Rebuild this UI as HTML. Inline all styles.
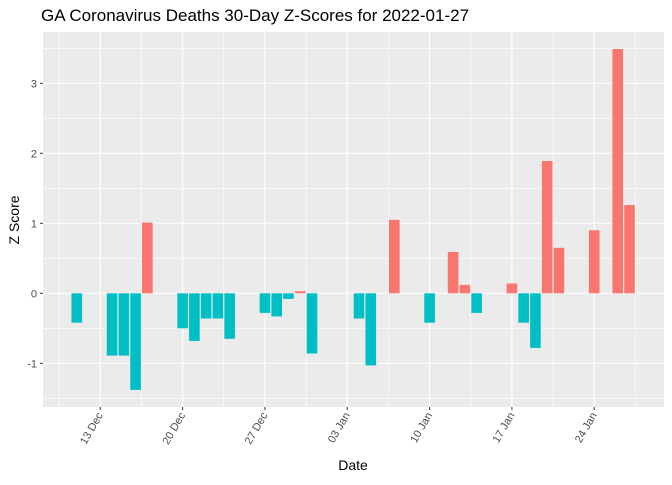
<!DOCTYPE html>
<html><head><meta charset="utf-8"><style>
body{margin:0;background:#fff;font-family:"Liberation Sans",Arial,sans-serif}
</style></head><body>
<svg width="672" height="480" xmlns="http://www.w3.org/2000/svg">
<text x="41" y="21" font-size="17" fill="#000">GA Coronavirus Deaths 30-Day Z-Scores for 2022-01-27</text>
<rect x="43" y="32" width="621" height="375" fill="#ebebeb"/>
<g id="grid"></g><g id="bars"></g><g id="axes"></g>
<text x="353" y="470" font-size="14" text-anchor="middle">Date</text>
<text transform="translate(19,220) rotate(-90)" font-size="14" text-anchor="middle">Z Score</text>
</svg>
<script>
const dates=["2021-12-11","2021-12-14","2021-12-15","2021-12-16","2021-12-17","2021-12-20","2021-12-21","2021-12-22","2021-12-23","2021-12-24","2021-12-27","2021-12-28","2021-12-29","2021-12-30","2021-12-31","2022-01-04","2022-01-05","2022-01-07","2022-01-10","2022-01-12","2022-01-13","2022-01-14","2022-01-17","2022-01-18","2022-01-19","2022-01-20","2022-01-21","2022-01-24","2022-01-26","2022-01-27"];
const zscores=[-0.42,-0.89,-0.89,-1.38,1.01,-0.50,-0.68,-0.36,-0.36,-0.65,-0.28,-0.33,-0.08,0.03,-0.86,-0.36,-1.03,1.05,-0.42,0.59,0.12,-0.28,0.14,-0.42,-0.78,1.89,0.65,0.90,3.49,1.26];
const yTicks=[-1,0,1,2,3];
const xTickDates=["2021-12-13","2021-12-20","2021-12-27","2022-01-03","2022-01-10","2022-01-17","2022-01-24"];
const xTickLabels=["13 Dec","20 Dec","27 Dec","03 Jan","10 Jan","17 Jan","24 Jan"];
const NS="http://www.w3.org/2000/svg";
const base=Date.UTC(2021,11,13);
function day(s){const p=s.split("-");return (Date.UTC(+p[0],+p[1]-1,+p[2])-base)/86400000;}
const X=d=>100.3+d*11.76;
const Y=v=>293.3-v*70;
function mk(t,a,parent){const e=document.createElementNS(NS,t);for(const k in a)e.setAttribute(k,a[k]);document.getElementById(parent).appendChild(e);return e;}
const grid="grid";
// minor horizontal
for(let v=-1.5;v<=3.5;v+=1){const l=mk("line",{x1:43,x2:664,y1:Y(v),y2:Y(v),stroke:"#fff","stroke-width":0.6},grid);

}
yTicks.forEach(v=>{const l=mk("line",{x1:43,x2:664,y1:Y(v),y2:Y(v),stroke:"#fff","stroke-width":1.2},grid);


const t=mk("text",{x:37,y:Y(v)+4,"font-size":11,fill:"#4d4d4d","text-anchor":"end"},"axes");t.textContent=v;


const tk=mk("line",{x1:40,x2:43,y1:Y(v),y2:Y(v),stroke:"#333"},"axes");

});
const tickDays=xTickDates.map(day);
for(let i=-1;i<tickDays.length;i++){const d=(i<0?tickDays[0]-7:tickDays[i])+3.5;const l=mk("line",{x1:X(d),x2:X(d),y1:32,y2:407,stroke:"#fff","stroke-width":0.6},grid);

}
tickDays.forEach((d,i)=>{const l=mk("line",{x1:X(d),x2:X(d),y1:32,y2:407,stroke:"#fff","stroke-width":1.2},grid);


const tk=mk("line",{x1:X(d),x2:X(d),y1:407,y2:410,stroke:"#333"},"axes");


const t=mk("text",{transform:`translate(${X(d)+3},415) rotate(-60)`,"font-size":11,fill:"#4d4d4d","text-anchor":"end"},"axes");t.textContent=xTickLabels[i];

});
dates.forEach((s,i)=>{const d=day(s),v=zscores[i];const w=10.6;
const r=mk("rect",{x:X(d)-w/2,y:Math.min(Y(v),Y(0)),width:w,height:Math.abs(Y(v)-Y(0)),fill:v>0?"#f8766d":"#00bfc4"},"bars");

});
</script>
</body></html>
